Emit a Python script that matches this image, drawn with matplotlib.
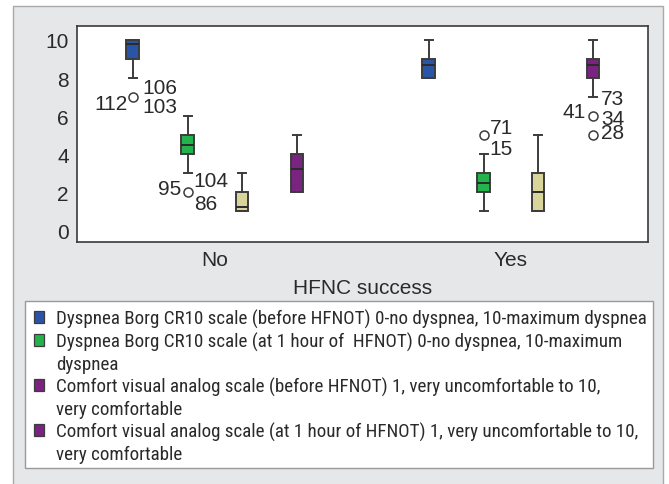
import matplotlib
matplotlib.use('Agg')
import matplotlib.pyplot as plt
from matplotlib.patches import Rectangle, Patch

W, H = 669, 485

# Box summaries per scale (No group, then Yes group)
groups = ['No', 'Yes']
series_colors = ['#2a55a6', '#23b24b', '#d9d49a', '#7b2381']
q1 = [[9.0, 4.0, 1.0, 2.0], [8.0, 2.0, 1.0, 8.0]]
med = [[9.8, 4.5, 1.25, 3.25], [8.7, 2.5, 2.0, 8.7]]
q3 = [[10.0, 5.0, 2.0, 4.0], [9.0, 3.0, 3.0, 9.0]]
whislo = [[8.0, 3.0, 1.0, 2.0], [8.0, 1.0, 1.0, 7.0]]
whishi = [[10.0, 6.0, 3.0, 5.0], [10.0, 4.0, 5.0, 10.0]]
fliers = [[[7.0], [2.0], [], []], [[], [5.0], [], [6.0, 5.0]]]

# case ids next to outliers: (group, series, value, label, dx px, dy px, ha)
flier_labels = [
    (0, 0, 7.0, '106', 10, 10, 'left'),
    (0, 0, 7.0, '103', 10, -9, 'left'),
    (0, 0, 7.0, '112', -5, -6, 'right'),
    (0, 1, 2.0, '104', 6, 12, 'left'),
    (0, 1, 2.0, '86', 6, -11, 'left'),
    (0, 1, 2.0, '95', -6, 4, 'right'),
    (1, 1, 5.0, '71', 6, 8, 'left'),
    (1, 1, 5.0, '15', 6, -13, 'left'),
    (1, 3, 6.0, '73', 8, 18, 'left'),
    (1, 3, 6.0, '34', 8, -2, 'left'),
    (1, 3, 6.0, '41', -7, 5, 'right'),
    (1, 3, 5.0, '28', 8, 3, 'left'),
]

# legend rows; None colour = continuation line of the entry above
legend_rows = [
    ('Dyspnea Borg CR10 scale (before HFNOT) 0-no dyspnea, 10-maximum dyspnea', '#2a55a6'),
    ('Dyspnea Borg CR10 scale (at 1 hour of  HFNOT) 0-no dyspnea, 10-maximum', '#23b24b'),
    ('dyspnea', None),
    ('Comfort visual analog scale (before HFNOT) 1, very uncomfortable to 10,', '#7b2381'),
    ('very comfortable', None),
    ('Comfort visual analog scale (at 1 hour of HFNOT) 1, very uncomfortable to 10,', '#7b2381'),
    ('very comfortable', None),
]

offsets = [-0.278, -0.092, 0.092, 0.278]

plt.rcParams['font.family'] = ['Liberation Sans', 'DejaVu Sans']

fig = plt.figure(figsize=(W / 100, H / 100), dpi=100, facecolor='white')
fig.add_artist(Rectangle((13 / W, -0.01), 650 / W, (H - 7) / H + 0.01, transform=fig.transFigure,
                         facecolor='#e6e7e8', edgecolor='#a9a9a9', lw=1.0, zorder=-1))

ax = fig.add_axes([77 / W, (H - 243) / H, 571 / W, 216 / H])
ax.set_facecolor('white')

stats, positions, colors = [], [], []
for g in range(2):
    for s in range(4):
        stats.append(dict(med=med[g][s], q1=q1[g][s], q3=q3[g][s],
                          whislo=whislo[g][s], whishi=whishi[g][s], fliers=fliers[g][s]))
        positions.append(g + offsets[s])
        colors.append(series_colors[s])

line = dict(color='#3c3c3c', linewidth=1.4)
bp = ax.bxp(stats, positions=positions, widths=0.042, patch_artist=True,
            capwidths=0.028, boxprops=dict(edgecolor='#3c3c3c', linewidth=1.4),
            whiskerprops=line, capprops=line, medianprops=dict(color='#2a2a2a', linewidth=1.4),
            flierprops=dict(marker='o', markersize=6.5, markerfacecolor='white',
                            markeredgecolor='#3c3c3c', markeredgewidth=1.1))
for patch, c in zip(bp['boxes'], colors):
    patch.set_facecolor(c)

for g, s, v, txt, dx, dy, ha in flier_labels:
    ax.annotate(txt, xy=(g + offsets[s], v), xytext=(dx, dy), textcoords='offset pixels',
                ha=ha, va='center', fontsize=15, color='#2a2a2a')

ax.set_xlim(-0.466, 1.463)
ax.set_ylim(-0.6, 10.73)
ax.set_xticks([0, 1])
ax.set_xticklabels(groups)
ax.set_yticks([0, 2, 4, 6, 8, 10])
ax.tick_params(axis='both', length=0, labelsize=15, labelcolor='#2a2a2a')
ax.tick_params(axis='y', pad=6)
ax.tick_params(axis='x', pad=6)
for sp in ax.spines.values():
    sp.set_color('#3a3a3a')
    sp.set_linewidth(1.2)
ax.set_xlabel('HFNC success', fontsize=15, color='#2a2a2a', labelpad=6)

# legend box, then the rows inside it
fig.add_artist(Rectangle((25 / W, (H - 469) / H), 628 / W, 167 / H, transform=fig.transFigure,
                         facecolor='white', edgecolor='#9a9a9a', lw=1.0, zorder=1))
handles = []
for txt, c in legend_rows:
    if c is None:
        handles.append(Patch(facecolor='none', edgecolor='none'))
    else:
        handles.append(Patch(facecolor=c, edgecolor='#3c3c3c', linewidth=0.9))
leg = fig.legend(handles, [r[0] for r in legend_rows], loc='upper left',
                 bbox_to_anchor=(34 / W, (H - 310) / H),
                 prop={'family': ['Roboto Condensed', 'DejaVu Sans'], 'size': 13.7},
                 handlelength=0.55, handleheight=0.55, handletextpad=0.6,
                 labelspacing=0.2, borderpad=0, borderaxespad=0, frameon=False)
leg.set_zorder(2)
for t in leg.get_texts():
    t.set_color('#2a2a2a')

fig.savefig('out.png', dpi=100, facecolor='white')
